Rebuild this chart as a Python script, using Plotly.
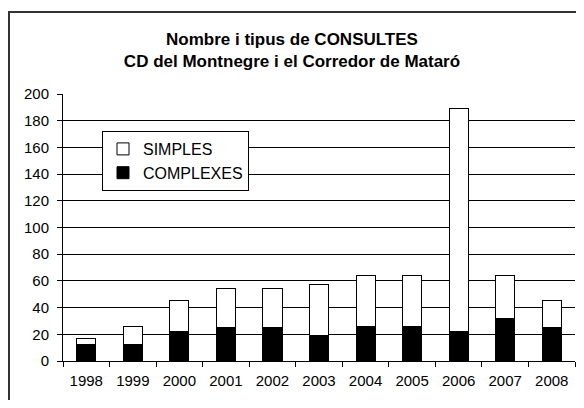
import plotly.graph_objects as go

years = ["1998", "1999", "2000", "2001", "2002", "2003", "2004", "2005", "2006", "2007", "2008"]
complexes = [12, 12, 22, 25, 25, 19, 26, 26, 22, 32, 25]
simples = [5, 14, 23, 29, 29, 38, 38, 38, 167, 32, 20]
y_ticks = [0, 20, 40, 60, 80, 100, 120, 140, 160, 180, 200]

# page body has an 8px margin, so the figure is sized and laid out in shifted coords
OFF = 8
W, H = 584 - 2 * OFF, 408 - 2 * OFF
L, R, T, B = 63 - OFF, 575 - OFF, 94 - OFF, 361 - OFF

def px_x(p):
    return (p - OFF - L) / (R - L)

def px_y(p):
    return (B - (p - OFF)) / (B - T)

fig = go.Figure()
fig.add_trace(go.Bar(x=years, y=complexes, name="COMPLEXES",
                     marker=dict(color="black", line=dict(color="black", width=1))))
fig.add_trace(go.Bar(x=years, y=simples, name="SIMPLES",
                     marker=dict(color="white", line=dict(color="black", width=1))))

font = "Liberation Sans, Arial, sans-serif"
border = dict(color="#333333", width=2)
fig.update_layout(
    width=W, height=H,
    margin=dict(l=L, r=W - R, t=T, b=H - B),
    barmode="stack", bargap=0.59,
    paper_bgcolor="white", plot_bgcolor="white",
    font=dict(family=font, size=15, color="black"),
    title=dict(text="<b>Nombre i tipus de CONSULTES<br>CD del Montnegre i el Corredor de Mataró</b>",
               x=0.5, xref="container", xanchor="center",
               y=1 - (45 - OFF) / H, yref="container", yanchor="top",
               font=dict(family=font, size=17, color="black")),
    legend=dict(x=px_x(102), y=px_y(131), xanchor="left", yanchor="top",
                bgcolor="white", bordercolor="black", borderwidth=1,
                traceorder="reversed", font=dict(size=16),
                itemwidth=30, tracegroupgap=0),
    xaxis=dict(type="category", showgrid=False, showline=True, linecolor="black",
               ticks="outside", tickson="boundaries", ticklen=5, tickcolor="black",
               tickfont=dict(size=15), ticklabelstandoff=6),
    yaxis=dict(range=[0, 200], tickvals=y_ticks, showgrid=True, gridcolor="black", gridwidth=1,
               showline=True, linecolor="black", ticks="outside", ticklen=5, tickcolor="black",
               zeroline=False, tickfont=dict(size=15), ticklabelstandoff=5),
    shapes=[
        dict(type="line", xref="paper", yref="paper",
             x0=px_x(8), x1=px_x(600), y0=px_y(12), y1=px_y(12), line=border),
        dict(type="line", xref="paper", yref="paper",
             x0=px_x(9), x1=px_x(9), y0=px_y(11), y1=px_y(430), line=border),
    ],
)

fig.write_html("out.html")
